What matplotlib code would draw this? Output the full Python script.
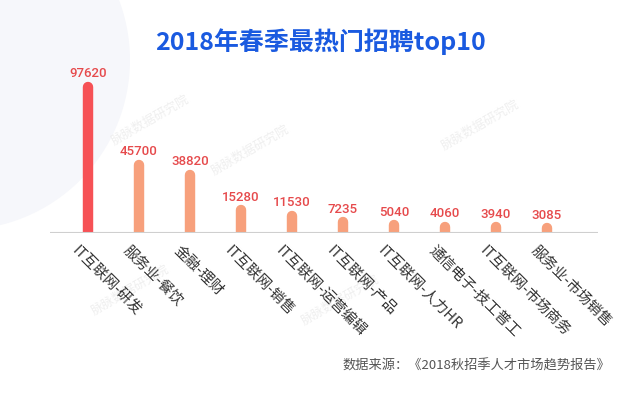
import matplotlib
matplotlib.use('Agg')
import matplotlib.pyplot as plt
from matplotlib.patches import Circle

plt.rcParams['font.family'] = ['Noto Sans CJK SC', 'DejaVu Sans']

# data
categories = ['IT互联网-研发', '服务业-餐饮', '金融-理财', 'IT互联网-销售', 'IT互联网-运营编辑',
              'IT互联网-产品', 'IT互联网-人力HR', '通信电子-技工普工', 'IT互联网-市场商务', '服务业-市场销售']
values = [97620, 45700, 38820, 15280, 11530, 7235, 5040, 4060, 3940, 3085]
title = '2018年春季最热门招聘top10'
source = '数据来源：《2018秋招季人才市场趋势报告》'

fig = plt.figure(figsize=(6.4, 3.97), dpi=100)
fig.patch.set_facecolor('white')

# faint background decoration
bg = fig.add_axes([0, 0, 1, 1], zorder=-1)
bg.set_xlim(0, 640)
bg.set_ylim(397, 0)
bg.axis('off')
bg.add_patch(Circle((-40, 60), 170, color='#f6f7fb', lw=0))
for (wx, wy) in [(150, 120), (480, 125), (130, 290), (340, 300), (250, 150)]:
    bg.text(wx, wy, '脉脉数据研究院', rotation=30, color='#efefef', fontsize=9,
            ha='center', va='center')

# bars
base_y = 233
ax = fig.add_axes([50 / 640, 1 - base_y / 397, 548 / 640, 173 / 397])
ax.set_facecolor('none')
ax.set_xlim(-0.745, 10.0)
ax.set_ylim(0, values[0] * 173 / 146)

for i, v in enumerate(values):
    col = '#f65155' if i == 0 else '#f7a07c'
    ax.plot([i, i], [0, v], color=col, lw=7.5, solid_capstyle='round', zorder=2)
    ax.text(i, v + values[0] * 0.045, str(v), ha='center', va='bottom', color='#e64a4c',
            fontsize=9.5, fontweight='medium', family=['Roboto', 'DejaVu Sans'])

ax.axhline(0, color='#cfcfcf', lw=1.5, zorder=3)
for s in ax.spines.values():
    s.set_visible(False)
ax.set_xticks([])
ax.set_yticks([])

for i, c in enumerate(categories):
    ax.text(i - 0.17, -values[0] * 0.07, c, rotation=-45, rotation_mode='anchor',
            ha='left', va='top', fontsize=10.5, color='#333333')

fig.text(320 / 640, 1 - 42 / 397, title, ha='center', va='center', fontsize=18,
         fontweight='bold', color='#1a5ae0')
fig.text(610 / 640, 1 - 366 / 397, source, ha='right', va='center', fontsize=9.5,
         color='#555555')

fig.savefig('out.png', dpi=100)
